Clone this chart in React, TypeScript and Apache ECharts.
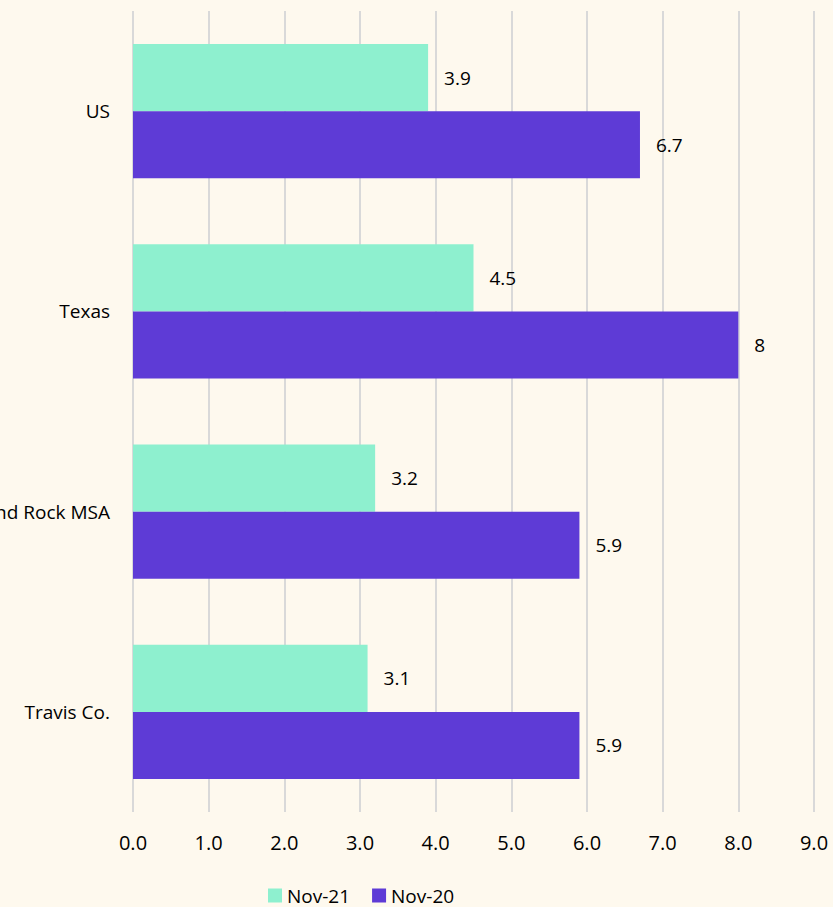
import React, { useEffect, useRef } from "react";
import * as echarts from "echarts";

const categories = ["US", "Texas", "Austin-Round Rock MSA", "Travis Co."];
const nov21 = [3.9, 4.5, 3.2, 3.1];
const nov20 = [6.7, 8, 5.9, 5.9];
const seriesNames = ["Nov-21", "Nov-20"];

export default function App() {
  const ref = useRef<HTMLDivElement>(null);
  useEffect(() => {
    const chart = echarts.init(ref.current!, null, { renderer: "svg" });
    const font = "'Open Sans', 'Liberation Sans', sans-serif";
    chart.setOption({
      animation: false,
      backgroundColor: "#FEF9EE",
      textStyle: { fontFamily: font },
      grid: { left: 133, right: 19, top: 11, bottom: 95, containLabel: false, outerBoundsMode: "none" },
      legend: {
        left: 263,
        top: 881,
        itemWidth: 14,
        itemHeight: 14,
        itemGap: 22,
        icon: "rect",
        textStyle: { fontSize: 19, color: "#000", fontFamily: font, padding: [0, 0, 0, 0] },
        data: seriesNames,
      },
      xAxis: {
        type: "value",
        min: 0,
        max: 9,
        interval: 1,
        axisLine: { show: false },
        axisTick: { show: false },
        splitLine: { show: true, lineStyle: { color: "#D9D9D9", width: 2 } },
        axisLabel: {
          fontSize: 20,
          color: "#000",
          margin: 20,
          fontFamily: font,
          formatter: (v: number) => v.toFixed(1),
        },
      },
      yAxis: {
        type: "category",
        data: categories,
        inverse: true,
        axisLine: { show: false },
        axisTick: { show: false },
        axisLabel: { fontSize: 19, color: "#000", margin: 23, fontFamily: font },
      },
      series: [
        {
          name: seriesNames[0],
          type: "bar",
          data: nov21,
          barGap: "0%",
          barCategoryGap: "33%",
          itemStyle: { color: "#8EF0CF" },
          label: { show: true, position: "right", distance: 16, fontSize: 19, color: "#000", fontFamily: font },
        },
        {
          name: seriesNames[1],
          type: "bar",
          data: nov20,
          barGap: "0%",
          barCategoryGap: "33%",
          itemStyle: { color: "#5E3BD6" },
          label: { show: true, position: "right", distance: 16, fontSize: 19, color: "#000", fontFamily: font },
        },
      ],
    });
    return () => chart.dispose();
  }, []);
  return (
    <div
      ref={ref}
      style={{ position: "fixed", left: 0, top: 0, width: 833, height: 907 }}
    />
  );
}
